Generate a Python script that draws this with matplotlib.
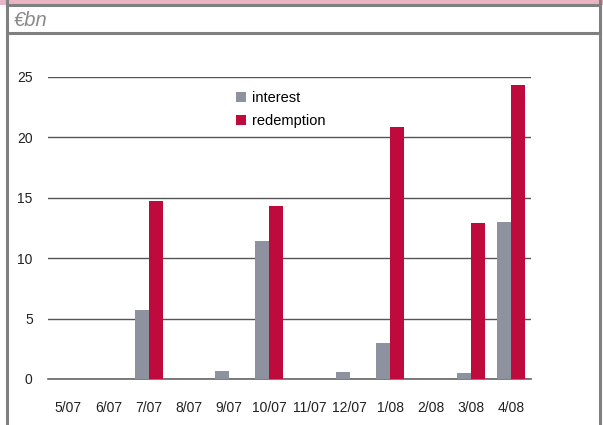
import matplotlib
matplotlib.use("Agg")
import matplotlib.pyplot as plt
from matplotlib.patches import Rectangle
from matplotlib.lines import Line2D
import numpy as np

categories = ["5/07", "6/07", "7/07", "8/07", "9/07", "10/07", "11/07", "12/07", "1/08", "2/08", "3/08", "4/08"]
interest = [0, 0, 5.7, 0, 0.7, 11.4, 0, 0.6, 3.0, 0, 0.5, 13.0]
redemption = [0, 0, 14.7, 0, 0, 14.3, 0, 0, 20.9, 0, 12.9, 24.3]
yticks = [0, 5, 10, 15, 20, 25]

GRAY = "#8E929E"
RED = "#BE0A3C"
FRAME = "#808080"
PINK = "#E9B4C4"

plt.rcParams['font.family'] = ['Liberation Sans', 'DejaVu Sans']

W, H = 603, 425
fig = plt.figure(figsize=(W / 100, H / 100), dpi=100)

def fx(px):
    return px / W

def fy(py):
    return 1 - py / H

# pink title band
fig.patches.append(Rectangle((0, fy(5)), 1, 1 - fy(5), transform=fig.transFigure,
                             facecolor=PINK, edgecolor="none", zorder=0))
# frame lines
for (x0, y0, x1, y1) in [(7, 0, 7, 425), (600, 0, 600, 425), (7, 5, 600, 5), (7, 33, 600, 33)]:
    fig.lines.append(Line2D([fx(x0), fx(x1)], [fy(y0), fy(y1)], transform=fig.transFigure,
                            color=FRAME, lw=2.2, zorder=1))

fig.text(fx(14), fy(21), "€bn", fontsize=14.5, style="italic", color="#8a8a8a",
         va="center", ha="left")

ax = fig.add_axes([fx(48), fy(379), fx(531) - fx(48), fy(77) - fy(379)])
x = np.arange(len(categories))
w = 0.35
ax.bar(x - w / 2, interest, w, color=GRAY, label="interest", zorder=3)
ax.bar(x + w / 2, redemption, w, color=RED, label="redemption", zorder=3)

ax.set_xlim(-0.5, len(categories) - 0.5)
ax.set_ylim(0, 25)
ax.set_yticks(yticks)
ax.set_xticks(x)
ax.set_xticklabels(categories)
ax.tick_params(axis="both", length=0, labelsize=10, colors="#222222")
ax.tick_params(axis="y", pad=11)
ax.tick_params(axis="x", pad=16)
ax.grid(axis="y", color="#555555", lw=1, zorder=1)
for s in ["top", "right", "left"]:
    ax.spines[s].set_visible(False)
ax.spines["bottom"].set_color("#666666")
ax.spines["bottom"].set_linewidth(1.2)

leg = ax.legend(loc="upper left", bbox_to_anchor=((236 - 48) / (531 - 48), (379 - 91) / 302),
                frameon=False, fontsize=10.5, handlelength=0.7, handleheight=0.7,
                handletextpad=0.4, labelspacing=0.6, borderaxespad=0, borderpad=0)

fig.savefig("out.png", dpi=100)
